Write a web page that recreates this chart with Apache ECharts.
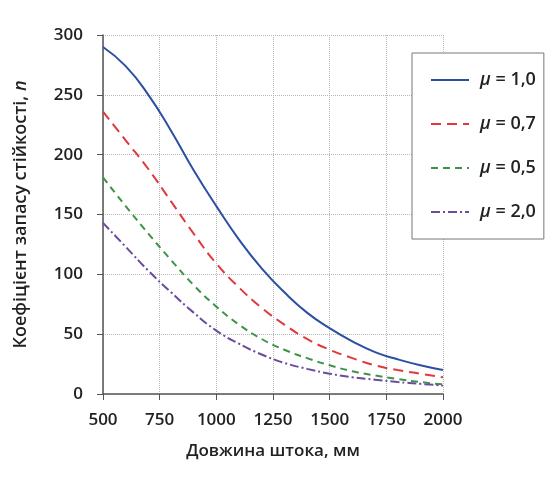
<!DOCTYPE html>
<html>
<head>
	<meta charset="utf-8">
	<title>ECharts</title>
	<script src="https://cdn.jsdelivr.net/npm/echarts@6/dist/echarts.min.js"></script>
	<style>
		html, body { margin: 0; padding: 0; background: #fff; }
	</style>
</head>
<body>
	<div id="main" style="width: 555px;height:484px;"></div>
	<script type="text/javascript">
	// rod length, mm
	var lengths = [500, 600, 700, 800, 900, 1000, 1100, 1200, 1300, 1400, 1500, 1600, 1700, 1800, 1900, 2000];
	// safety factor n for each mu
	var mu10 = [290, 274, 250, 220, 187, 157, 129, 105, 85, 68, 55, 44, 35, 29, 24, 20];
	var mu07 = [236, 212, 188, 161, 134, 109, 89, 72, 58, 46, 37, 30, 24, 20, 17, 14];
	var mu05 = [181, 157, 134, 112, 91, 73, 58, 46, 37, 30, 24, 19, 15.5, 12.5, 10, 8];
	var mu20 = [143, 123, 103, 85, 68, 53, 42, 33, 26, 21, 17, 14, 12, 10, 8.5, 7];
	var seriesNames = ['{i|μ} = 1,0', '{i|μ} = 0,7', '{i|μ} = 0,5', '{i|μ} = 2,0'];

	function pairs(vals) {
		return lengths.map(function (l, i) { return [l, vals[i]]; });
	}

	var font = '"Open Sans", "DejaVu Sans", sans-serif';
	var myChart = echarts.init(document.getElementById('main'));

	function line(name, vals, color, type) {
		return {
			name: name,
			type: 'line',
			smooth: true,
			symbol: 'none',
			data: pairs(vals),
			lineStyle: { color: color, width: 2, type: type },
			itemStyle: { color: color }
		};
	}

	var option = {
		backgroundColor: '#fff',
		animation: false,
		grid: { left: 103, right: 112, top: 35, bottom: 90 },
		legend: {
			orient: 'vertical',
			left: 412,
			top: 53,
			padding: [18, 8, 18, 18],
			itemGap: 26,
			itemWidth: 38,
			itemHeight: 14,
			borderColor: '#777',
			borderWidth: 1,
			backgroundColor: '#fff',
			itemStyle: { opacity: 0 },
			data: seriesNames,
			textStyle: {
				fontFamily: font, fontSize: 18, fontWeight: 600, color: '#222',
				padding: [0, 0, 0, 6],
				rich: { i: { fontFamily: font, fontSize: 18, fontStyle: 'italic', color: '#222' } }
			}
		},
		xAxis: {
			type: 'value',
			min: 500,
			max: 2000,
			interval: 250,
			name: 'Довжина штока, мм',
			nameLocation: 'middle',
			nameGap: 49,
			nameTextStyle: { fontFamily: font, fontSize: 17, fontWeight: 600, color: '#222' },
			axisLine: { show: true, onZero: false, lineStyle: { color: '#555', width: 1.5 } },
			axisTick: { show: true, length: 6, lineStyle: { color: '#555' } },
			axisLabel: {
				margin: 18, fontFamily: font, fontSize: 17, fontWeight: 600, color: '#222',
				formatter: function (v) { return String(v); }
			},
			splitLine: { show: true, lineStyle: { color: '#b8b8b8', type: 'dotted', width: 1 } }
		},
		yAxis: {
			type: 'value',
			min: 0,
			max: 300,
			interval: 50,
			name: 'Коефіцієнт запасу стійкості, {i|n}',
			nameLocation: 'middle',
			nameGap: 73,
			nameTextStyle: {
				fontFamily: font, fontSize: 18, fontWeight: 600, color: '#222',
				rich: { i: { fontFamily: font, fontSize: 18, fontStyle: 'italic', color: '#222' } }
			},
			axisLine: { show: true, lineStyle: { color: '#555', width: 1.5 } },
			axisTick: { show: true, length: 6, lineStyle: { color: '#555' } },
			axisLabel: { margin: 20, fontFamily: font, fontSize: 17, fontWeight: 600, color: '#222' },
			splitLine: { show: true, lineStyle: { color: '#b8b8b8', type: 'dotted', width: 1 } }
		},
		series: [
			line(seriesNames[0], mu10, '#2b4fa3', 'solid'),
			line(seriesNames[1], mu07, '#e0383c', [10, 6]),
			line(seriesNames[2], mu05, '#3f9347', [7, 5]),
			line(seriesNames[3], mu20, '#6b4b9e', [9, 3, 2, 3])
		]
	};

	myChart.setOption(option);
	</script>
</body>
</html>
